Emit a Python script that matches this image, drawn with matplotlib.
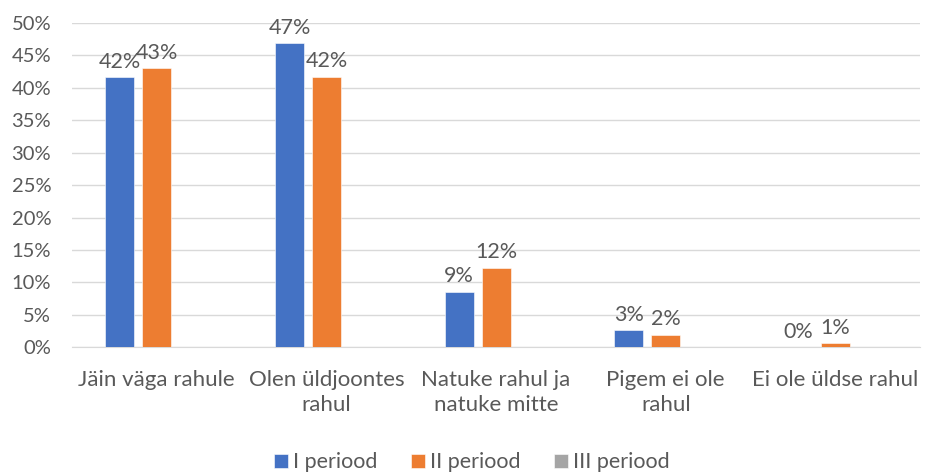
import numpy as np
import matplotlib
matplotlib.use("Agg")
import matplotlib.pyplot as plt
from matplotlib.ticker import PercentFormatter

# Data
categories = ["Jäin väga rahule", "Olen üldjoontes\nrahul", "Natuke rahul ja\nnatuke mitte",
              "Pigem ei ole\nrahul", "Ei ole üldse rahul"]
series_names = ["I periood", "II periood", "III periood"]
period1 = [41.6, 46.9, 8.6, 2.6, 0.0]
period2 = [43.0, 41.7, 12.3, 1.9, 0.6]
period3 = [0.0, 0.0, 0.0, 0.0, 0.0]
colors = ["#4472C4", "#ED7D31", "#A5A5A5"]

plt.rcParams['font.family'] = ['Lato', 'DejaVu Sans']
grey = "#595959"

fig = plt.figure(figsize=(9.25, 4.75), dpi=100)
ax = fig.add_axes([0.0778, 0.2688, 0.917, 0.6828])

x = np.arange(len(categories))
width = 0.171
step = 0.218
all_series = [period1, period2, period3]
for i, vals in enumerate(all_series):
    pos = x + (i - 1) * step
    bars = ax.bar(pos, vals, width, color=colors[i], label=series_names[i],
                  edgecolor="white", linewidth=0.4, zorder=3)
    # only the first two periods get value labels
    if i < 2:
        for xp, v in zip(pos, vals):
            ax.annotate(f"{v:.0f}%", (xp, v), xytext=(0, 4), textcoords="offset points",
                        ha="center", va="bottom", fontsize=15.5, color=grey)

ax.set_ylim(0, 50)
ax.set_xlim(-0.5, len(categories) - 0.5)
ax.set_yticks(np.arange(0, 51, 5))
ax.yaxis.set_major_formatter(PercentFormatter(decimals=0))
ax.grid(axis="y", color="#d9d9d9", linewidth=1, zorder=0)
ax.set_xticks(x)
ax.set_xticklabels(categories, fontsize=16, color=grey, linespacing=1.32)
ax.tick_params(axis="y", labelsize=14.5, labelcolor=grey, length=0, pad=15)
ax.tick_params(axis="x", length=0, pad=16)
for s in ["top", "right", "left"]:
    ax.spines[s].set_visible(False)
ax.spines["bottom"].set_color("#d9d9d9")

fig.legend(loc="lower center", bbox_to_anchor=(0.51, -0.035), ncol=3, frameon=False,
           fontsize=15.5, labelcolor=grey, handlelength=0.65, handleheight=0.65,
           handletextpad=0.25, columnspacing=1.55)

fig.savefig("out.png", dpi=100)
